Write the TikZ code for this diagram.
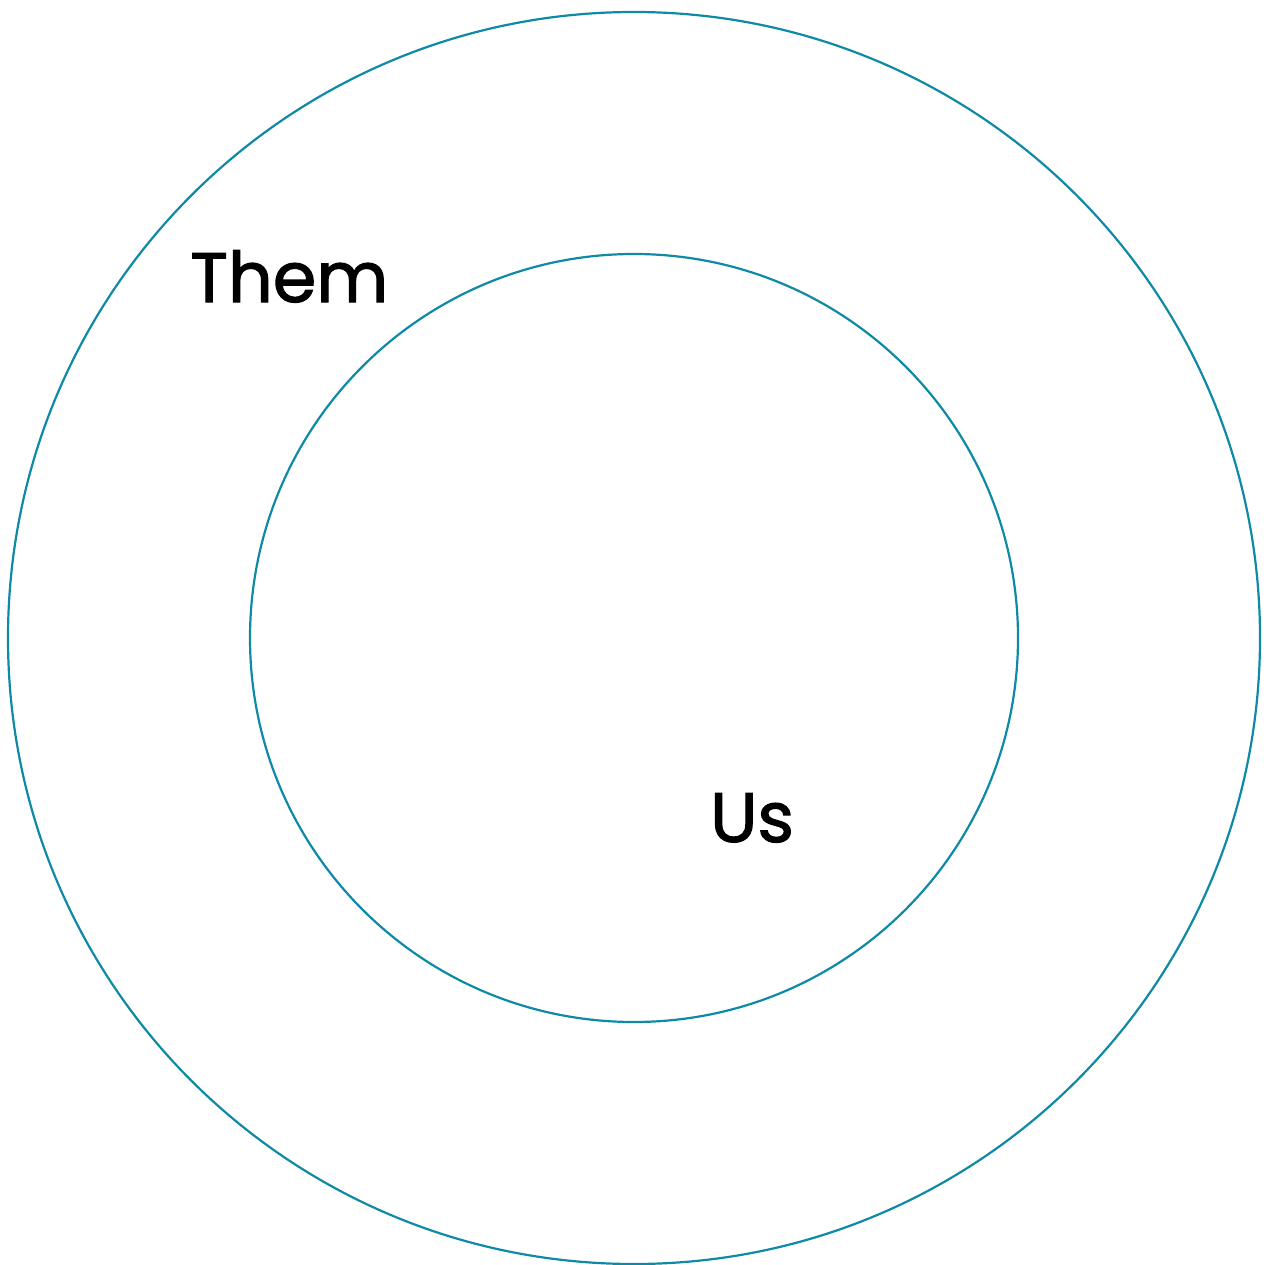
\documentclass[tikz,border=0pt]{standalone}
\usepackage{fontspec}
\setmainfont{Poppins}
\newfontfamily\labelfont[FakeBold=1.6]{Poppins}
\definecolor{ringteal}{RGB}{14,138,166}
\begin{document}
\begin{tikzpicture}[x=1pt,y=-1pt,
  ring/.style={draw=ringteal,line width=2.2pt,fill=none},
  label/.style={font=\labelfont\fontsize{70}{76}\selectfont,text=black,inner sep=0pt}]
\useasboundingbox (0,0) rectangle (1266,1265);
\node[ring,circle,minimum size=1252pt,inner sep=0pt] (outer) at (634,638) {};
\node[ring,circle,minimum size=768pt,inner sep=0pt] (inner) at (634,638) {};
\node[label,anchor=base west] (them) at (190,302) {Them};
\node[label,anchor=base west] (us) at (710,842) {Us};
\end{tikzpicture}
\end{document}
